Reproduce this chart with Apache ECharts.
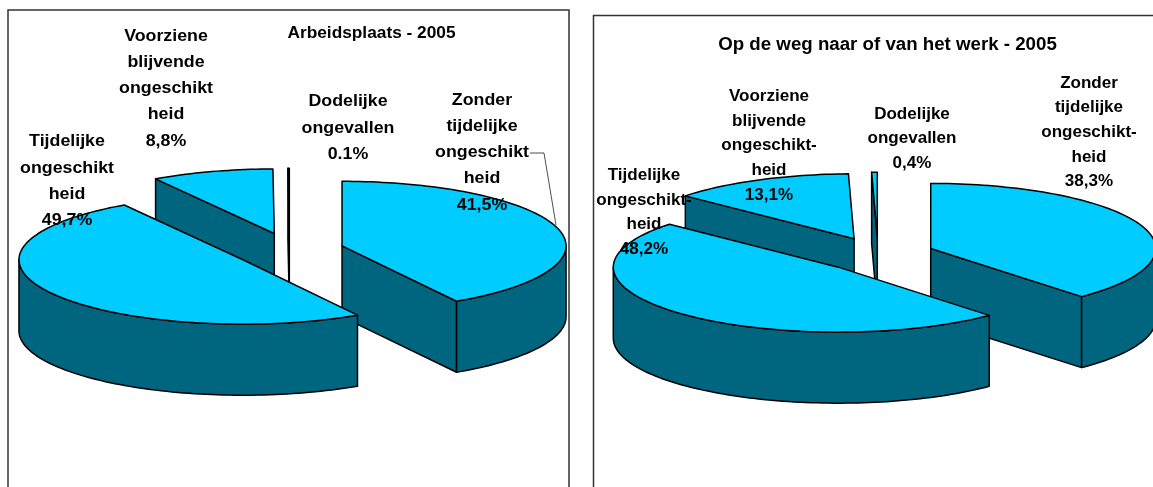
<!DOCTYPE html>
<html>
<head>
<meta charset="utf-8">
<style>html,body{margin:0;padding:0;background:#fff}#c{width:1153px;height:487px}</style>
<script src="https://cdn.jsdelivr.net/npm/echarts@6/dist/echarts.min.js"></script>
</head>
<body>
<div id="c"></div>
<script>
// Data (clockwise from 12 o'clock)
const categories = ['Zonder', 'Tijdelijke', 'Voorziene', 'Dodelijke'];
const leftValues = [41.5, 49.7, 8.8, 0.1];
const rightValues = [38.3, 48.2, 13.1, 0.4];
const leftTitle = 'Arbeidsplaats - 2005';
const rightTitle = 'Op de weg naar of van het werk - 2005';
const leftLabels = [
  'Zonder\ntijdelijke\nongeschikt\nheid\n41,5%',
  'Tijdelijke\nongeschikt\nheid\n49,7%',
  'Voorziene\nblijvende\nongeschikt\nheid\n8,8%',
  'Dodelijke\nongevallen\n0.1%'
];
const rightLabels = [
  'Zonder\ntijdelijke\nongeschikt-\nheid\n38,3%',
  'Tijdelijke\nongeschikt-\nheid\n48,2%',
  'Voorziene\nblijvende\nongeschikt-\nheid\n13,1%',
  'Dodelijke\nongevallen\n0,4%'
];

// Layout
const TOP = '#00CCFF', SIDE = '#006680', EDGE = '#000';
const leftGeom = { px: 289.5, py: 250.5, rx: 224, ry: 64.5, depth: 71, ex: 54.5, ey: 17.7 };
const rightGeom = { px: 878, py: 254.7, rx: 225, ry: 65, depth: 71, ex: 56.5, ey: 17.5 };
const leftLabelPos = [[482, 152.5], [67, 181], [166, 88.5], [348, 128]];
const rightLabelPos = [[1089, 132.5], [644, 212.5], [769, 146], [912, 139]];

function pieSeries(name, values, g) {
  const total = values.reduce((a, b) => a + b, 0);
  const rad = d => d * Math.PI / 180;
  const renderItem = (params, api) => {
    const i = params.dataIndex;
    let start = 0;
    for (let k = 0; k < i; k++) start += values[k] / total * 360;
    const sweep = api.value(0) / total * 360;
    const end = start + sweep, mid = rad(start + sweep / 2);
    const cx = g.px + g.ex * Math.sin(mid), cy = g.py - g.ey * Math.cos(mid);
    const rim = d => [cx + g.rx * Math.sin(rad(d)), cy - g.ry * Math.cos(rad(d))];
    const down = p => [p[0], p[1] + g.depth];
    const arc = (a, b) => {
      const pts = [], n = Math.max(1, Math.ceil((b - a) / 1.5));
      for (let k = 0; k <= n; k++) pts.push(rim(a + (b - a) * k / n));
      return pts;
    };
    const base = Math.round(cy) * 10;
    const poly = (points, fill, o) => ({
      type: 'polygon', z2: base + o, shape: { points },
      style: { fill, stroke: EDGE, lineWidth: 1.5, lineJoin: 'round' }
    });
    const c = [cx, cy], children = [];
    // Only the cut faces that turn towards the viewer are drawn.
    if (Math.sin(rad(start)) < -1e-6) {
      const r = rim(start);
      children.push(poly([c, r, down(r), down(c)], SIDE, 0));
    }
    if (Math.sin(rad(end)) > 1e-6) {
      const r = rim(end);
      children.push(poly([c, r, down(r), down(c)], SIDE, 0));
    }
    const wa = Math.max(start, 90), wb = Math.min(end, 270);
    if (wb > wa) {
      const top = arc(wa, wb);
      children.push(poly(top.concat(top.map(down).reverse()), SIDE, 1));
    }
    children.push(poly([c].concat(arc(start, end)), TOP, 2));
    return { type: 'group', children };
  };
  return {
    type: 'custom', name, coordinateSystem: 'none', animation: false, silent: true, z: 2,
    renderItem, data: values.map((v, i) => ({ name: categories[i], value: [v] }))
  };
}

function textEl(text, x, y, size, scaleX, lineHeight) {
  return {
    type: 'text', x, y, scaleX, z: 100, silent: true,
    style: {
      text, fill: '#000', align: 'center', verticalAlign: 'middle', textAlign: 'center', textVerticalAlign: 'middle',
      font: 'bold ' + size + 'px "Liberation Sans", Arial, sans-serif', lineHeight
    }
  };
}

const frame = (x, y, w, h) => ({
  type: 'rect', z: -1, silent: true, shape: { x, y, width: w, height: h },
  style: { fill: '#fff', stroke: '#333', lineWidth: 1.5 }
});

const chart = echarts.init(document.getElementById('c'), null, { renderer: 'canvas', width: 1153, height: 487 });
chart.setOption({
  animation: false,
  backgroundColor: '#fff',
  graphic: { elements: [
    frame(8, 10, 561, 600),
    frame(593.5, 15.5, 700, 600),
    textEl(leftTitle, 371.5, 34, 16, 1.08, 18),
    textEl(rightTitle, 887.5, 45, 18.7, 1, 20),
    ...leftLabels.map((t, i) => textEl(t, leftLabelPos[i][0], leftLabelPos[i][1], 17, 1.047, 26.2)),
    ...rightLabels.map((t, i) => textEl(t, rightLabelPos[i][0], rightLabelPos[i][1], 16, 1.064, 24.7)),
    { type: 'polyline', z: 50, silent: true, shape: { points: [[530, 153], [544, 153], [556, 225]] },
      style: { fill: 'none', stroke: '#222', lineWidth: 0.8 } }
  ] },
  series: [pieSeries('Arbeidsplaats', leftValues, leftGeom), pieSeries('Op de weg', rightValues, rightGeom)]
});
</script>
</body>
</html>
